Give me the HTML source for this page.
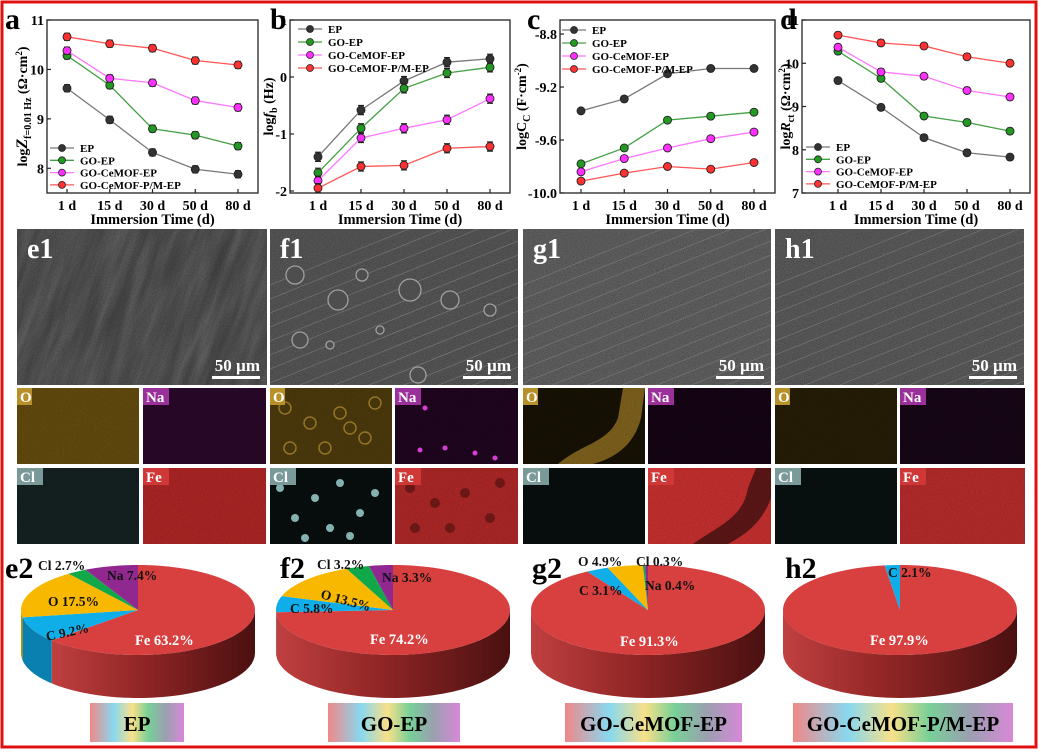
<!DOCTYPE html>
<html><head><meta charset="utf-8"><style>
html,body{margin:0;padding:0;background:#fff;width:1041px;height:752px;overflow:hidden}
svg{display:block;font-family:"Liberation Serif",serif}
</style></head><body>
<svg id="fig" width="1041" height="752" viewBox="0 0 1041 752" xmlns="http://www.w3.org/2000/svg">
<defs id="defs">
<filter id="grain" x="0" y="0" width="1" height="1"><feTurbulence type="fractalNoise" baseFrequency="0.9" numOctaves="2" seed="3"/><feColorMatrix type="matrix" values="0 0 0 0 0  0 0 0 0 0  0 0 0 0 0  1 0 0 0 -0.4"/></filter>
<filter id="streak" x="0" y="0" width="1" height="1"><feTurbulence type="fractalNoise" baseFrequency="0.012 0.1" numOctaves="3" seed="7"/><feColorMatrix type="saturate" values="0"/></filter>
<linearGradient id="lab" x1="0" x2="1" y1="0" y2="0"><stop offset="0" stop-color="#f08888"/><stop offset="0.25" stop-color="#88d8f0"/><stop offset="0.45" stop-color="#f8e088"/><stop offset="0.62" stop-color="#78d098"/><stop offset="0.8" stop-color="#9aa0b0"/><stop offset="1" stop-color="#d888d8"/></linearGradient>
<linearGradient id="side" x1="0" x2="1" y1="0" y2="0"><stop offset="0" stop-color="#c04040"/><stop offset="0.45" stop-color="#902525"/><stop offset="1" stop-color="#4a1010"/></linearGradient>
</defs>
<rect x="0" y="0" width="1041" height="752" fill="#fff"/>
<rect x="2" y="2" width="1034" height="745" fill="none" stroke="#e01010" stroke-width="3"/>
<g id="charts"></g>
<g id="images"></g>
<g id="pies"></g>
</svg>
<script>
const NS="http://www.w3.org/2000/svg";
const svg=document.getElementById('fig');
function mk(tag,attrs,parent,text){const e=document.createElementNS(NS,tag);for(const k in attrs)e.setAttribute(k,attrs[k]);if(text!==undefined)e.textContent=text;(parent||svg).appendChild(e);return e;}

// ---------- chart data ----------
const categories=["1 d","15 d","30 d","50 d","80 d"];
const seriesNames=["EP","GO-EP","GO-CeMOF-EP","GO-CeMOF-P/M-EP"];
const aEP=[9.62,8.98,8.32,7.98,7.88];
const aGO=[10.28,9.68,8.80,8.67,8.45];
const aCe=[10.38,9.82,9.73,9.37,9.23];
const aPM=[10.66,10.52,10.43,10.18,10.09];
const bEP=[-1.40,-0.58,-0.07,0.26,0.32];
const bGO=[-1.68,-0.90,-0.20,0.07,0.17];
const bCe=[-1.82,-1.07,-0.90,-0.75,-0.38];
const bPM=[-1.95,-1.57,-1.55,-1.25,-1.22];
const cEP=[-9.38,-9.29,-9.10,-9.06,-9.06];
const cGO=[-9.78,-9.66,-9.45,-9.42,-9.39];
const cCe=[-9.84,-9.74,-9.66,-9.59,-9.54];
const cPM=[-9.91,-9.85,-9.80,-9.82,-9.77];
const dEP=[9.60,8.98,8.28,7.93,7.83];
const dGO=[10.28,9.65,8.78,8.63,8.43];
const dCe=[10.37,9.80,9.70,9.37,9.22];
const dPM=[10.65,10.47,10.40,10.15,10.00];
const aTicks=["8","9","10","11"];
const bTicks=["-2","-1","0","1"];
const cTicks=["-10.0","-9.6","-9.2","-8.8"];
const dTicks=["7","8","9","10","11"];

const colors=["#333333","#229922","#ff30ff","#ff3030"];
const lineColors=["#777777","#44a044","#ff77ff","#ff5555"];
const cg=document.getElementById('charts');

function chart(o){
  const g=mk('g',{},cg);
  
  
  const ys=v=>o.y1-(v-o.ymin)/(o.ymax-o.ymin)*(o.y1-o.y0);
  const xs=i=>o.xf+i*(o.xl-o.xf)/(categories.length-1);
  const box=mk('rect',{x:o.x0,y:o.y0,width:o.x1-o.x0,height:o.y1-o.y0,fill:'none',stroke:'#222','stroke-width':1.3},g);
  
  o.ticks.forEach(t=>{const v=parseFloat(t),y=ys(v);
    mk('line',{x1:o.x0,x2:o.x0+4,y1:y,y2:y,stroke:'#222','stroke-width':1.2},g);
    const tl=mk('text',{x:o.x0-3,y:y+5,'text-anchor':'end','font-size':14,'font-weight':'bold'},g,t);
    });
  categories.forEach((c,i)=>{const x=xs(i);
    mk('line',{x1:x,x2:x,y1:o.y1,y2:o.y1-4,stroke:'#222','stroke-width':1.2},g);
    const tl=mk('text',{x:x,y:o.y1+17,'text-anchor':'middle','font-size':14,'font-weight':'bold'},g,c);
    });
  const xt=mk('text',{x:(o.x0+o.x1)/2,y:o.y1+31,'text-anchor':'middle','font-size':14.5,'font-weight':'bold'},g,'Immersion Time (d)');
  
  const yt=mk('text',{transform:`translate(${o.ytx},${(o.y0+o.y1)/2}) rotate(-90)`,'text-anchor':'middle','font-size':14,'font-weight':'bold'},g);
  yt.innerHTML=o.ytitle;
  
  const pl=mk('text',{x:o.lx,y:o.y0+9,'font-size':30,'font-weight':'bold'},g,o.letter);
  
  o.series.forEach((s,k)=>{
    const sg=mk('g',{},g);
    
    
    mk('polyline',{points:s.map((v,i)=>xs(i)+','+ys(v)).join(' '),fill:'none',stroke:lineColors[k],'stroke-width':1.3},sg);
    s.forEach((v,i)=>{const x=xs(i),y=ys(v),e1=ys(v+o.err),e2=ys(v-o.err);
      mk('path',{d:`M${x},${e1}V${e2}M${x-3},${e1}H${x+3}M${x-3},${e2}H${x+3}`,stroke:'#222','stroke-width':1.2,fill:'none'},sg);
      const p=mk('circle',{cx:x,cy:y,r:4,fill:colors[k],stroke:'#222','stroke-width':0.9},sg);
      });
  });
  const lg=mk('g',{},g);
  
  seriesNames.forEach((n,k)=>{const y=o.legY+k*o.legDy,x=o.legX;
    const e=mk('g',{},lg);
    
    mk('line',{x1:x,x2:x+24,y1:y,y2:y,stroke:lineColors[k],'stroke-width':1.3},e);
    mk('circle',{cx:x+12,cy:y,r:3.5,fill:colors[k],stroke:'#222','stroke-width':0.8},e);
    mk('text',{x:x+30,y:y+4,'font-size':11,'font-weight':'bold'},e,n);});
}
chart({name:'chart-a',letter:'a',lx:5,x0:47,x1:258,y0:20,y1:193,ymin:7.5,ymax:11,xf:67,xl:238,ticks:aTicks,series:[aEP,aGO,aCe,aPM],err:0.07,ytx:27,ytitle:'log<tspan font-style="italic" font-size="16">Z</tspan><tspan font-size="10" dy="4">f=0.01 Hz</tspan><tspan dy="-4"> (Ω·cm</tspan><tspan font-size="9" dy="-5">2</tspan><tspan dy="5">)</tspan>',legX:50,legY:148,legDy:12.3});
chart({name:'chart-b',letter:'b',lx:270,x0:290,x1:510,y0:20,y1:193,ymin:-2.035,ymax:1,xf:318,xl:490,ticks:bTicks,series:[bEP,bGO,bCe,bPM],err:0.08,ytx:273,ytitle:'log<tspan font-style="italic">f</tspan><tspan font-size="10" dy="4">b</tspan><tspan dy="-4"> (Hz)</tspan>',legX:298,legY:29,legDy:13});
chart({name:'chart-c',letter:'c',lx:527,x0:560,x1:775,y0:20,y1:193,ymin:-10,ymax:-8.694,xf:581,xl:754,ticks:cTicks,series:[cEP,cGO,cCe,cPM],err:0.02,ytx:526,ytitle:'logC<tspan font-size="10" dy="4">C</tspan><tspan dy="-4"> (F·cm</tspan><tspan font-size="9" dy="-5">-2</tspan><tspan dy="5">)</tspan>',legX:562,legY:30,legDy:13});
chart({name:'chart-d',letter:'d',lx:780,x0:802,x1:1030,y0:20,y1:193,ymin:7,ymax:11,xf:838,xl:1010,ticks:dTicks,series:[dEP,dGO,dCe,dPM],err:0.07,ytx:790,ytitle:'log<tspan font-style="italic">R</tspan><tspan font-size="10" dy="4">ct</tspan><tspan dy="-4"> (Ω·cm</tspan><tspan font-size="9" dy="-5">2</tspan><tspan dy="5">)</tspan>',legX:806,legY:147,legDy:12.3});

// ---------- images ----------
const ig=document.getElementById('images');
const defs=document.getElementById('defs');
const sem=[{n:'e1',x:17,w:250,c:'#3e3e3e'},{n:'f1',x:270,w:248,c:'#545454'},{n:'g1',x:523,w:248,c:'#5e5e5e'},{n:'h1',x:775,w:249,c:'#585858'}];
sem.forEach(s=>{
  const cp=mk('clipPath',{id:'clip-'+s.n},defs);mk('rect',{x:s.x,y:229,width:s.w,height:156},cp);
  const g=mk('g',{'clip-path':'url(#clip-'+s.n+')'},ig);
  mk('rect',{x:s.x,y:229,width:s.w,height:156,fill:s.c},g);
  if(s.n==='e1')mk('rect',{x:s.x-150,y:229-150,width:s.w+300,height:456,filter:'url(#streak)',opacity:0.3,transform:`rotate(-70 ${s.x+125} 307)`},g);
  mk('rect',{x:s.x,y:229,width:s.w,height:156,filter:'url(#grain)',opacity:0.5},g);
  if(s.n!=='e1'){for(let i=0;i<16;i++){const y0=225+i*14;mk('line',{x1:s.x,y1:y0+60,x2:s.x+s.w,y2:y0-40,stroke:'#8a8a8a','stroke-width':0.6,opacity:0.7},g);}}
  if(s.n==='f1'){[[295,275,9],[338,300,10],[362,275,6],[410,290,11],[450,300,9],[300,340,8],[418,375,8],[490,310,6],[330,345,4],[380,330,4]].forEach(b=>mk('circle',{cx:b[0],cy:b[1],r:b[2],fill:'#4e4e4e',stroke:'#a0a0a0','stroke-width':1.3},g));}
  const t=mk('text',{x:s.x+10,y:258,'font-size':28,'font-weight':'bold',fill:'#fff'},g,s.n);
  
  const sb=mk('text',{x:s.x+s.w-7,y:371,'text-anchor':'end','font-size':17,'font-weight':'bold',fill:'#fff'},g,'50 µm');
  
  mk('rect',{x:s.x+s.w-55,y:376,width:48,height:3,fill:'#fff'},g);
});
const els=[{e:'O',c:'#b8902a'},{e:'Na',c:'#9a309a'},{e:'Cl',c:'#7a9a9a'},{e:'Fe',c:'#d03838'}];
const tileBg={e1:['#60480e','#280828','#142020','#a82424'],f1:['#4a380c','#1e061e','#080e0e','#a82626'],g1:['#161104','#140414','#080e0e','#c02e2e'],h1:['#241c06','#160616','#081010','#b02a2a']};
const xsT={e1:[17,143],f1:[270,395],g1:[523,648],h1:[775,900]};
Object.keys(xsT).forEach(n=>{
  els.forEach((el,k)=>{
    const x=xsT[n][k%2],y=k<2?388:468,w=(k%2? (n==='h1'?125:123):122),h=76;
    const cp=mk('clipPath',{id:'clip-'+n+k},defs);mk('rect',{x:x,y:y,width:w,height:h},cp);
    const g=mk('g',{'clip-path':'url(#clip-'+n+k+')'},ig);
    mk('rect',{x:x,y:y,width:w,height:h,fill:tileBg[n][k]},g);
    if(n==='g1'&&k===0)mk('path',{d:`M${x+35},${y+76} C${x+60},${y+55} ${x+85},${y+55} ${x+95},${y+30} L${x+100},${y} L${x+122},${y} L${x+118},${y+30} C${x+110},${y+62} ${x+85},${y+72} ${x+70},${y+76}Z`,fill:'#7a5e1c'},g);
    if(n==='g1'&&k===3)mk('path',{d:`M${x+45},${y+76} C${x+70},${y+58} ${x+95},${y+50} ${x+100},${y+20} L${x+108},${y} L${x+123},${y} L${x+123},${y+30} C${x+112},${y+60} ${x+90},${y+70} ${x+80},${y+76}Z`,fill:'#5a1616'},g);
    if(n==='f1'&&k===0){[[15,20],[40,35],[70,25],[95,50],[55,60],[20,60],[105,15],[80,40]].forEach(p=>mk('circle',{cx:x+p[0],cy:y+p[1],r:6,fill:'none',stroke:'#9a7a28','stroke-width':1.5},g));}
    if(n==='f1'&&k===2){[[10,20],[25,50],[45,30],[70,15],[90,45],[60,60],[105,25],[35,70],[80,68]].forEach(p=>mk('circle',{cx:x+p[0],cy:y+p[1],r:4,fill:'#8ab8b8'},g));}
    if(n==='f1'&&k===3){[[15,20],[40,35],[70,25],[95,50],[55,60],[20,60],[105,15]].forEach(p=>mk('circle',{cx:x+p[0],cy:y+p[1],r:5,fill:'#701818'},g));}
    if(n==='f1'&&k===1){[[30,20],[50,60],[80,65],[100,70],[25,62]].forEach(p=>mk('circle',{cx:x+p[0],cy:y+p[1],r:2.5,fill:'#e040e0'},g));}
    mk('rect',{x:x,y:y,width:w,height:h,filter:'url(#grain)',opacity:0.35},g);
    mk('rect',{x:x,y:y,width:el.e.length*11+4,height:17,fill:el.c},g);
    mk('text',{x:x+3,y:y+14,'font-size':15,'font-weight':'bold',fill:'#fff'},g,el.e);
  });
});

// ---------- pies ----------
const pieElements=["Fe","C","O","Cl","Na"];
const pieE2=[63.2,9.2,17.5,2.7,7.4];
const pieF2=[74.2,5.8,13.5,3.2,3.3];
const pieG2=[91.3,3.1,4.9,0.3,0.4];
const pieH2=[97.9,2.1,0,0,0];
const pieSamples=["EP","GO-EP","GO-CeMOF-EP","GO-CeMOF-P/M-EP"];
const sliceColors=["#d84040","#10aee8","#f8b800","#10a848","#902890"];
const sideColors=["#9a2828","#0a80b0","#c09000","#0a7a30","#601860"];
const pg=document.getElementById('pies');
function pie(o){
  const g=mk('g',{},pg);
  
  const cx=o.cx,cy=610,rx=117,ry=45,dep=43;
  const pt=(a,dy)=>[cx+rx*Math.sin(a*Math.PI/180),cy-ry*Math.cos(a*Math.PI/180)+(dy||0)];
  let a=0;const spans=o.vals.map(v=>{const s=[a,a+v*3.6];a+=v*3.6;return s;});
  spans.forEach((s,k)=>{const a0=Math.max(s[0],90),a1=Math.min(s[1],270);if(a1<=a0)return;
    let d='';const n=30;
    for(let i=0;i<=n;i++){const p=pt(a0+(a1-a0)*i/n);d+=(i?'L':'M')+p[0]+','+p[1];}
    for(let i=n;i>=0;i--){const p=pt(a0+(a1-a0)*i/n,dep);d+='L'+p[0]+','+p[1];}
    const sp=mk('path',{d:d+'Z',fill:k===0?'url(#side)':sideColors[k]},g);
    });
  spans.forEach((s,k)=>{if(s[1]-s[0]<=0)return;
    let d=`M${cx},${cy}`;const n=Math.max(4,Math.ceil((s[1]-s[0])/3));
    for(let i=0;i<=n;i++){const p=pt(s[0]+(s[1]-s[0])*i/n);d+='L'+p[0]+','+p[1];}
    const sl=mk('path',{d:d+'Z',fill:sliceColors[k]},g);
    });
  o.labels.forEach(l=>{const k=pieElements.indexOf(l[0]);
    const t=mk('text',{x:l[1],y:l[2],'font-size':k===0?14.5:13.5,'font-weight':'bold',fill:k===0?'#fff':'#111',transform:l[3]?`rotate(${l[3]} ${l[1]} ${l[2]})`:''},g,l[0]+' '+o.vals[k]+'%');
    });
  const pl=mk('text',{x:o.lx,y:578,'font-size':30,'font-weight':'bold'},g,o.letter);
  
  const bx=mk('rect',{x:o.bx,y:703,width:o.bw,height:39,fill:'url(#lab)'},g);
  
  mk('text',{x:o.bx+o.bw/2,y:731,'text-anchor':'middle','font-size':21,'font-weight':'bold'},g,o.name);
}
pie({letter:'e2',lx:5,cx:138,vals:pieE2,name:pieSamples[0],bx:90,bw:94,labels:[['Fe',135,645],['C',47,641,-12],['O',48,606],['Cl',38,570],['Na',107,580]]});
pie({letter:'f2',lx:280,cx:393,vals:pieF2,name:pieSamples[1],bx:328,bw:132,labels:[['Fe',370,644],['C',290,613],['O',320,598,15],['Cl',317,569],['Na',382,582]]});
pie({letter:'g2',lx:532,cx:648,vals:pieG2,name:pieSamples[2],bx:565,bw:177,labels:[['Fe',620,646],['C',579,595],['O',578,566],['Cl',636,566],['Na',645,590]]});
pie({letter:'h2',lx:785,cx:900,vals:pieH2,name:pieSamples[3],bx:793,bw:220,labels:[['Fe',870,645],['C',888,577]]});
</script>
</body></html>
